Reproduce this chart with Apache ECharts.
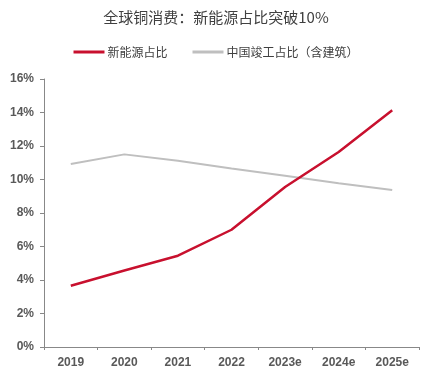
<!DOCTYPE html>
<html>
<head>
<meta charset="utf-8">
<script src="https://cdn.jsdelivr.net/npm/echarts@6/dist/echarts.min.js"></script>
<style>
  html, body { margin: 0; padding: 0; background: #fff; }
  #chart { width: 432px; height: 377px; }
</style>
</head>
<body>
<div id="chart"></div>
<script>
// 全球铜消费 - 新能源占比 vs 中国竣工占比
var years = ['2019', '2020', '2021', '2022', '2023e', '2024e', '2025e'];
var newEnergy = [3.66, 4.57, 5.45, 7.0, 9.55, 11.64, 14.13];
var chinaBuild = [10.93, 11.5, 11.12, 10.65, 10.23, 9.77, 9.37];
var seriesNames = ['新能源占比', '中国竣工占比（含建筑）'];

var dom = document.getElementById('chart');
var myChart = echarts.init(dom);
var cjk = '"Noto Sans CJK SC", sans-serif';

var option = {
    animation: false,
    title: {
        text: '全球铜消费：新能源占比突破10%',
        left: 'center',
        top: 5,
        textStyle: {
            fontFamily: cjk,
            fontSize: 15,
            fontWeight: 'normal',
            color: '#404040'
        }
    },
    legend: {
        top: 41,
        left: 'center',
        itemWidth: 31,
        itemHeight: 3,
        itemGap: 25,
        icon: 'rect',
        textStyle: {
            fontFamily: cjk,
            fontSize: 12,
            color: '#404040',
            padding: [0, 0, 0, -2]
        },
        data: seriesNames
    },
    grid: {
        left: 44,
        right: 13,
        top: 79,
        bottom: 30
    },
    xAxis: {
        type: 'category',
        data: years,
        boundaryGap: true,
        axisLine: { lineStyle: { color: '#888', width: 1 } },
        axisTick: { show: true, length: 3, lineStyle: { color: '#888' } },
        axisLabel: {
            color: '#595959',
            fontFamily: 'Liberation Sans, Arial, sans-serif',
            fontSize: 12,
            fontWeight: 'bold',
            margin: 10
        }
    },
    yAxis: {
        type: 'value',
        min: 0,
        max: 16,
        interval: 2,
        splitLine: { show: false },
        axisLine: { show: true, lineStyle: { color: '#888', width: 1 } },
        axisTick: { show: true, length: 4, lineStyle: { color: '#888' } },
        axisLabel: {
            formatter: '{value}%',
            color: '#595959',
            fontFamily: 'Liberation Sans, Arial, sans-serif',
            fontSize: 12,
            fontWeight: 'bold',
            margin: 10
        }
    },
    series: [
        {
            name: seriesNames[0],
            type: 'line',
            data: newEnergy,
            symbol: 'none',
            lineStyle: { color: '#C8102E', width: 2.5 },
            itemStyle: { color: '#C8102E' },
            z: 3
        },
        {
            name: seriesNames[1],
            type: 'line',
            data: chinaBuild,
            symbol: 'none',
            lineStyle: { color: '#BFBFBF', width: 2 },
            itemStyle: { color: '#BFBFBF' },
            z: 2
        }
    ]
};

if (option && typeof option === 'object') {
    myChart.setOption(option);
}
</script>
</body>
</html>
